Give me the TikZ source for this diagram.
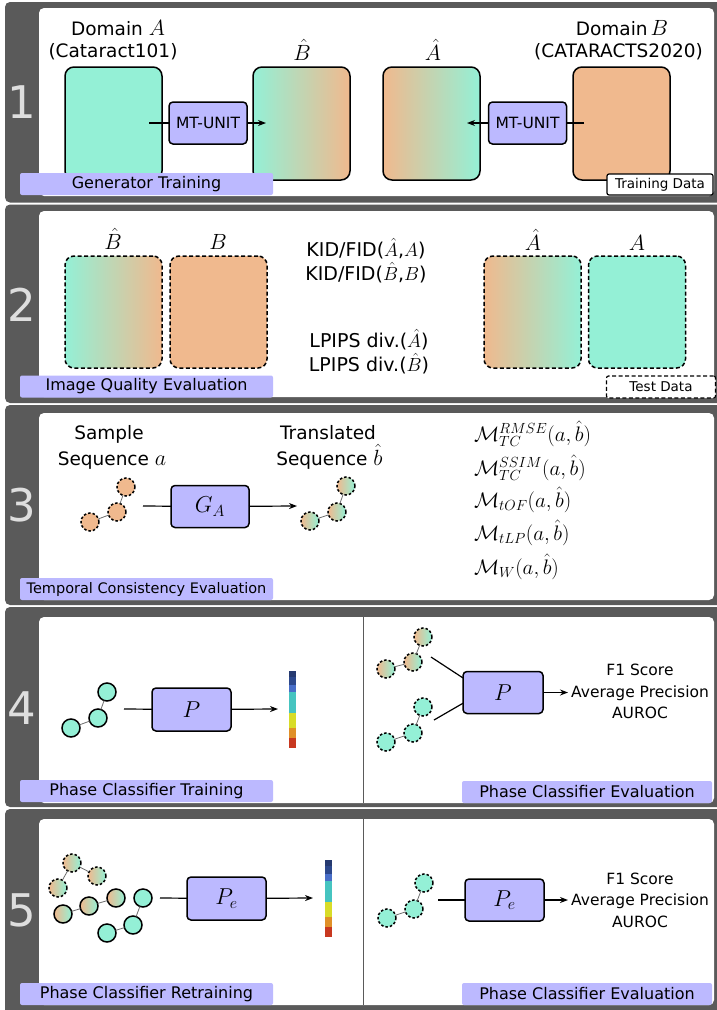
\RequirePackage{fix-cm}
\documentclass[tikz,border=0pt]{standalone}
\usepackage[no-math]{fontspec}
\setmainfont{DejaVu Sans}
\usetikzlibrary{arrows.meta}
\definecolor{panelgray}{RGB}{90,90,90}
\definecolor{numgray}{RGB}{222,222,222}
\definecolor{mint}{RGB}{148,240,214}
\definecolor{peach}{RGB}{240,185,142}
\definecolor{lav}{RGB}{188,185,255}
\definecolor{linkgray}{RGB}{110,110,110}
\definecolor{cnavy}{RGB}{38,58,112}
\definecolor{cblue}{RGB}{44,72,140}
\definecolor{clblue}{RGB}{72,110,200}
\definecolor{cteal}{RGB}{70,196,192}
\definecolor{cyellow}{RGB}{216,220,40}
\definecolor{corange}{RGB}{224,144,40}
\definecolor{cred}{RGB}{200,56,32}
\newcommand\lm[1]{{\fontsize{22}{26}\selectfont$#1$}}
\newcommand\phasebar[2]{%
  \fill[cnavy] (#1,#2) rectangle ++(7,6);
  \fill[cblue] (#1,#2+6) rectangle ++(7,8);
  \fill[clblue] (#1,#2+14) rectangle ++(7,7);
  \fill[cteal] (#1,#2+21) rectangle ++(7,21);
  \fill[cyellow] (#1,#2+42) rectangle ++(7,15);
  \fill[corange] (#1,#2+57) rectangle ++(7,10);
  \fill[cred] (#1,#2+67) rectangle ++(7,10);}
\begin{document}
\begin{tikzpicture}[x=1pt,y=-1pt,
  every node/.style={inner sep=0pt,outer sep=0pt},
  panel/.style={fill=panelgray,rounded corners=5pt},
  innerbox/.style={fill=white,rounded corners=5pt},
  numlbl/.style={text=numgray,font=\fontsize{45}{50}\selectfont},
  bar/.style={fill=lav,rounded corners=2pt,minimum width=253pt,minimum height=22pt,font=\fontsize{16}{19}\selectfont},
  rbar/.style={fill=lav,rounded corners=2pt,minimum width=250pt,minimum height=22pt,font=\fontsize{16}{19}\selectfont},
  lbl/.style={font=\fontsize{18.5}{22}\selectfont,anchor=base},
  hatlbl/.style={font=\fontsize{22}{26}\selectfont,anchor=base},
  midlbl/.style={font=\fontsize{19}{23}\selectfont,anchor=base},
  metric/.style={font=\fontsize{21}{25}\selectfont,anchor=base west},
  score/.style={font=\fontsize{15.5}{19}\selectfont,anchor=base},
  tag/.style={fill=white,draw=black,line width=1.2pt,rounded corners=2pt,font=\fontsize{13.5}{15}\selectfont},
  img/.style={draw=black,line width=1.5pt,rounded corners=9pt,minimum width=97pt,minimum height=113pt},
  dimg/.style={img,dash pattern=on 4pt off 2.5pt,minimum height=112pt},
  unit/.style={draw=black,line width=1.5pt,rounded corners=4pt,fill=lav,minimum width=78pt,minimum height=42pt},
  mathunit/.style={unit,font=\fontsize{23}{27}\selectfont},
  dot/.style={circle,draw=black,line width=1.5pt,minimum size=18pt},
  ddot/.style={dot,dash pattern=on 2.5pt off 2pt},
  link/.style={draw=linkgray,line width=0.8pt},
  conn/.style={draw=black,line width=1.2pt},
  arr/.style={conn,-{Stealth[length=8pt,width=6pt]}},
  grad/.style={left color=peach,right color=mint},
  divider/.style={draw=panelgray,line width=1pt}
]
\useasboundingbox (0,0) rectangle (716,1010);
\fill[white] (0,0) rectangle (716,1010);
% panels
\fill[panel] (5,2) rectangle (722,202.5);
\fill[panel] (5,204.5) rectangle (722,403);
\fill[panel] (5,405) rectangle (722,605);
\fill[panel] (5,607) rectangle (722,807);
\fill[panel] (5,809) rectangle (722,1016);
\fill[innerbox] (39,8) rectangle (714,196);
\fill[innerbox] (39,211) rectangle (714,397);
\fill[innerbox] (39,413) rectangle (714,600);
\fill[innerbox] (39,617) rectangle (714,803);
\fill[innerbox] (39,819) rectangle (714,1005);
\node[numlbl] (n1) at (22,102) {1};
\node[numlbl] (n2) at (22,305) {2};
\node[numlbl] (n3) at (22,505) {3};
\node[numlbl] (n4) at (22,708) {4};
\node[numlbl] (n5) at (22,910) {5};
\draw[divider] (363.5,617) -- (363.5,803);
\draw[divider] (363.5,819) -- (363.5,1005);

% ---------- panel 1
\node[lbl] (domA) at (118,35) {Domain \lm{A}};
\node[lbl] (catA) at (113,57) {(Cataract101)};
\node[lbl] (domB) at (622,35) {Domain\,\lm{B}};
\node[lbl] (catB) at (618.5,57) {(CATARACTS2020)};
\node[hatlbl] (hB1) at (302,60) {$\hat{B}$};
\node[hatlbl] (hA1) at (433,60) {$\hat{A}$};
\node[img,fill=mint] (boxA) at (113.5,123.5) {};
\node[img,left color=mint,right color=peach] (boxhB) at (301.5,123.5) {};
\node[img,left color=peach,right color=mint] (boxhA) at (431.5,123.5) {};
\node[img,fill=peach] (boxB) at (621.5,123.5) {};
\coordinate (s1) at (149,123);
\coordinate (e1) at (266,123);
\coordinate (s2) at (584,123);
\coordinate (e2) at (467,123);
\node[unit,font=\fontsize{15.5}{18}\selectfont] (mt1) at (208,123) {MT-UNIT};
\node[unit,font=\fontsize{15.5}{18}\selectfont] (mt2) at (527.5,123) {MT-UNIT};
\draw[conn] (s1) -- (mt1);
\draw[arr] (mt1) -- (e1);
\draw[conn] (s2) -- (mt2);
\draw[arr] (mt2) -- (e2);
\node[bar] (bar1) at (146.5,184) {Generator Training};
\node[tag,minimum width=106pt,minimum height=21pt] (train) at (660,184.5) {Training Data};

% ---------- panel 2
\node[hatlbl] (hB2) at (113,249) {$\hat{B}$};
\node[hatlbl] (B2) at (218,249) {$B$};
\node[hatlbl] (hA2) at (533,250) {$\hat{A}$};
\node[hatlbl] (A2) at (637,250) {$A$};
\node[dimg,left color=mint,right color=peach] (bhB) at (113.5,312) {};
\node[dimg,fill=peach] (bB) at (218.5,312) {};
\node[dimg,left color=peach,right color=mint] (bhA) at (532.5,312) {};
\node[dimg,fill=mint] (bA) at (637,312) {};
\node[midlbl] (kid1) at (366,256) {KID/FID($\hat{A}$,$A$)};
\node[midlbl] (kid2) at (366,280) {KID/FID($\hat{B}$,$B$)};
\node[midlbl] (lp1) at (369,347) {LPIPS div.($\hat{A}$)};
\node[midlbl] (lp2) at (369,371) {LPIPS div.($\hat{B}$)};
\node[bar] (bar2) at (146.5,386.5) {Image Quality Evaluation};
\node[tag,dash pattern=on 4pt off 2.5pt,minimum width=109pt,minimum height=22pt] (test) at (661,387) {Test Data};

% ---------- panel 3
\node[lbl] (samp) at (109,439) {Sample};
\node[lbl] (sseq) at (112,465) {Sequence \lm{a}};
\node[lbl] (trans) at (328,439) {Translated};
\node[lbl] (tseq) at (329.5,465) {Sequence \lm{\hat{b}}};
\node[ddot,fill=peach] (a1) at (90,522) {};
\node[ddot,fill=peach] (a2) at (117,512) {};
\node[ddot,fill=peach] (a3) at (126,487) {};
\draw[link] (a1) -- (a2);
\draw[link] (a2) -- (a3);
\node[ddot,grad] (b1) at (310,521) {};
\node[ddot,grad] (b2) at (337,512) {};
\node[ddot,grad] (b3) at (346,486) {};
\draw[link] (b1) -- (b2);
\draw[link] (b2) -- (b3);
\node[mathunit] (GA) at (210,506.5) {$G_A$};
\coordinate (s3) at (143,506);
\coordinate (e3) at (297,506);
\draw[conn] (s3) -- (GA);
\draw[arr] (GA) -- (e3);
\node[metric] (m1) at (474,441) {$\mathcal{M}_{TC}^{RMSE}(a,\hat{b})$};
\node[metric] (m2) at (474,475) {$\mathcal{M}_{TC}^{SSIM}(a,\hat{b})$};
\node[metric] (m3) at (474,507) {$\mathcal{M}_{tOF}(a,\hat{b})$};
\node[metric] (m4) at (474,540) {$\mathcal{M}_{tLP}(a,\hat{b})$};
\node[metric] (m5) at (474,574) {$\mathcal{M}_{W}(a,\hat{b})$};
\node[bar,font=\fontsize{14.5}{17}\selectfont] (bar3) at (146.5,589) {Temporal Consistency Evaluation};

% ---------- panel 4 left
\node[dot,fill=mint] (c1) at (71,728) {};
\node[dot,fill=mint] (c2) at (98,718) {};
\node[dot,fill=mint] (c3) at (107,692) {};
\draw[link] (c1) -- (c2);
\draw[link] (c2) -- (c3);
\node[mathunit,minimum width=79pt,minimum height=43pt] (P1) at (191.5,709.5) {$P$};
\coordinate (s4) at (124,709);
\coordinate (e4) at (278,709);
\draw[conn] (s4) -- (P1);
\draw[arr] (P1) -- (e4);
\phasebar{289}{671}
\node[bar] (bar4) at (146.5,791) {Phase Classifier Training};

% ---------- panel 4 right
\node[ddot,grad] (d1) at (386,669) {};
\node[ddot,grad] (d2) at (413,662) {};
\node[ddot,grad] (d3) at (423,637) {};
\draw[link] (d1) -- (d2);
\draw[link] (d2) -- (d3);
\node[ddot,fill=mint] (f1) at (386,742) {};
\node[ddot,fill=mint] (f2) at (413,733) {};
\node[ddot,fill=mint] (f3) at (423,707) {};
\draw[link] (f1) -- (f2);
\draw[link] (f2) -- (f3);
\node[mathunit,minimum width=80pt] (P2) at (503,692.5) {$P$};
\coordinate (s5) at (431,657);
\coordinate (s6) at (434,720);
\coordinate (e5) at (568,692.5);
\draw[conn] (s5) -- (P2.160);
\draw[conn] (s6) -- (P2.195);
\draw[arr] (P2) -- (e5);
\node[score] (f1s) at (640,675) {F1 Score};
\node[score] (aps) at (640,697) {Average Precision};
\node[score] (aus) at (640,718) {AUROC};
\node[rbar] (bar4r) at (587,792) {Phase Classifier Evaluation};

% ---------- panel 5 left
\node[ddot,grad] (g1) at (72,863) {};
\node[ddot,grad] (g2) at (97,876) {};
\node[ddot,grad] (g3) at (58,888) {};
\draw[link] (g1) -- (g2);
\draw[link] (g1) -- (g3);
\node[dot,grad] (h1) at (63,914) {};
\node[dot,grad] (h2) at (89,906) {};
\node[dot,grad] (h3) at (116,898) {};
\draw[link] (h1) -- (h2);
\draw[link] (h2) -- (h3);
\node[dot,fill=mint] (i1) at (143,898) {};
\node[dot,fill=mint] (i2) at (133,925) {};
\node[dot,fill=mint] (i3) at (107,933) {};
\draw[link] (i1) -- (i2);
\draw[link] (i2) -- (i3);
\node[mathunit,minimum width=79pt,minimum height=43pt] (Pe1) at (226.5,898.5) {$P_e$};
\coordinate (s7) at (160,898);
\coordinate (e7) at (313,898);
\draw[conn] (s7) -- (Pe1);
\draw[arr] (Pe1) -- (e7);
\phasebar{325}{860}
\node[bar] (bar5) at (146.5,994) {Phase Classifier Retraining};

% ---------- panel 5 right
\node[ddot,fill=mint] (k1) at (387,918) {};
\node[ddot,fill=mint] (k2) at (414,909) {};
\node[ddot,fill=mint] (k3) at (424,883) {};
\draw[link] (k1) -- (k2);
\draw[link] (k2) -- (k3);
\node[mathunit,minimum width=79pt] (Pe2) at (504.5,900) {$P_e$};
\coordinate (s8) at (438,900);
\coordinate (e8) at (568,900);
\draw[conn] (s8) -- (Pe2);
\draw[arr] (Pe2) -- (e8);
\node[score] (f1s2) at (640,884) {F1 Score};
\node[score] (aps2) at (640,905) {Average Precision};
\node[score] (aus2) at (640,927) {AUROC};
\node[rbar] (bar5r) at (587,994) {Phase Classifier Evaluation};
\end{tikzpicture}
\end{document}
